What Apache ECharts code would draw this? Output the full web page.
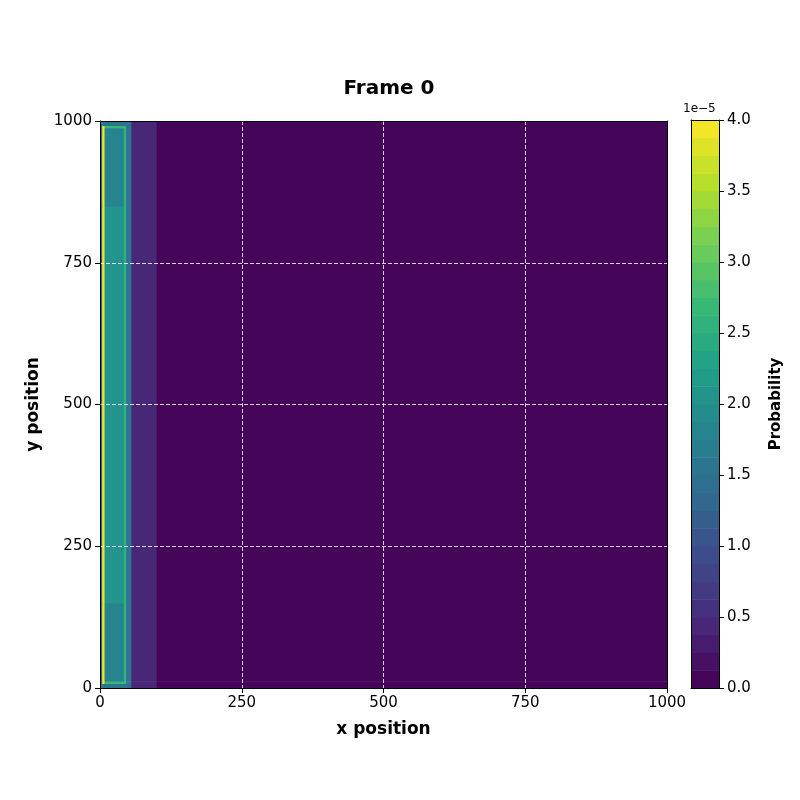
<!DOCTYPE html>
<html>
<head>
<meta charset="utf-8">
<script src="https://cdn.jsdelivr.net/npm/echarts@6/dist/echarts.min.js"></script>
<style>body{margin:0;background:#fff}#c{width:800px;height:800px}</style>
</head>
<body>
<div id="c"></div>
<script>
// cell edges (x/y position) and probability values in units of 1e-5
var xEdges = [0, 4, 8, 42, 46, 55, 100, 1000];
var yEdges = [0, 8, 12, 150, 850, 988, 992, 1000];
var probRows = [
    [1.4, 1.6, 1.6, 1.6, 1.4, 0.4, 0.0],
    [1.6, 3.9, 2.7, 2.7, 1.6, 0.4, 0.0],
    [1.4, 3.9, 1.8, 2.5, 1.5, 0.4, 0.0],
    [1.4, 3.9, 2.0, 2.5, 1.5, 0.4, 0.0],
    [1.4, 3.9, 1.8, 2.5, 1.5, 0.4, 0.0],
    [1.6, 3.9, 2.7, 2.7, 1.6, 0.4, 0.0],
    [1.4, 1.6, 1.6, 1.6, 1.4, 0.4, 0.0]
];
var nLevels = 32, vmax = 4;

var viridisStops = ['#440154','#482878','#3e4989','#31688e','#26828e','#1f9e89','#35b779','#6ece58','#b5de2b','#fde725'];
function viridis(t) {
    var p = t * (viridisStops.length - 1), i = Math.min(Math.floor(p), viridisStops.length - 2), f = p - i;
    var a = viridisStops[i], b = viridisStops[i + 1];
    var c = [1, 3, 5].map(function (k) {
        var u = parseInt(a.substr(k, 2), 16), v = parseInt(b.substr(k, 2), 16);
        return Math.round(u + (v - u) * f);
    });
    return 'rgb(' + c.join(',') + ')';
}
function levelColor(v) {
    var idx = Math.min(nLevels - 1, Math.max(0, Math.floor(v / vmax * nLevels)));
    return viridis((idx + 0.5) / nLevels);
}

var cells = [];
probRows.forEach(function (row, j) {
    row.forEach(function (v, i) {
        cells.push([xEdges[i], xEdges[i + 1], yEdges[j], yEdges[j + 1], v]);
    });
});
var bands = [];
for (var k = 0; k < nLevels; k++) bands.push([k * vmax / nLevels, (k + 1) * vmax / nLevels]);

var chart = echarts.init(document.getElementById('c'));
var ff = 'DejaVu Sans';
var ax = {color: '#000', fontSize: 15, fontFamily: ff, formatter: function (v) { return String(v); }};
var nameStyle = {fontSize: 17, fontWeight: 'bold', fontFamily: ff, color: '#000'};
var black = {lineStyle: {color: '#000'}};
var frameOnly = {axisLine: {show: true, onZero: false, lineStyle: {color: '#000'}}, axisTick: {show: false}, axisLabel: {show: false}, splitLine: {show: false}, z: 10};
chart.setOption({
    animation: false,
    title: {text: 'Frame 0', left: 384, top: 74, textAlign: 'center',
        textStyle: {fontSize: 20, fontWeight: 'bold', fontFamily: ff, color: '#000'}},
    grid: [
        {left: 100, top: 121, width: 567, height: 567},
        {left: 691, top: 120, width: 28, height: 568}
    ],
    xAxis: [
        {type: 'value', min: 0, max: 1000, interval: 250, z: 10, gridIndex: 0,
            name: 'x position', nameLocation: 'middle', nameGap: 33, nameTextStyle: nameStyle,
            axisLine: {onZero: false, lineStyle: {color: '#000'}}, axisTick: {lineStyle: {color: '#000'}, length: 5},
            axisLabel: ax, splitLine: {show: true, lineStyle: {color: '#fff', type: [4, 2], width: 0.8}}},
        Object.assign({type: 'value', min: 0, max: 1, gridIndex: 1, position: 'bottom'}, frameOnly),
        Object.assign({type: 'value', min: 0, max: 1000, gridIndex: 0, position: 'top'}, frameOnly),
        Object.assign({type: 'value', min: 0, max: 1, gridIndex: 1, position: 'top'}, frameOnly)
    ],
    yAxis: [
        {type: 'value', min: 0, max: 1000, interval: 250, z: 10, gridIndex: 0,
            name: 'y position', nameLocation: 'middle', nameGap: 58, nameTextStyle: nameStyle,
            axisLine: {show: true, onZero: false, lineStyle: {color: '#000'}}, axisTick: {show: true, lineStyle: {color: '#000'}, length: 5},
            axisLabel: ax, splitLine: {show: true, lineStyle: {color: '#fff', type: [4, 2], width: 0.8}}},
        {type: 'value', min: 0, max: 4, interval: 0.5, gridIndex: 1, position: 'right', z: 10,
            name: 'Probability', nameLocation: 'middle', nameGap: 50, nameRotate: 90,
            nameTextStyle: {fontSize: 15, fontWeight: 'bold', fontFamily: ff, color: '#000'},
            axisLine: {show: true, onZero: false, lineStyle: {color: '#000'}}, axisTick: {show: true, lineStyle: {color: '#000'}, length: 5},
            axisLabel: {color: '#000', fontSize: 15, fontFamily: ff, formatter: function (v) { return v.toFixed(1); }},
            splitLine: {show: false}},
        Object.assign({type: 'value', min: 0, max: 1000, gridIndex: 0, position: 'right'}, frameOnly),
        Object.assign({type: 'value', min: 0, max: 4, gridIndex: 1, position: 'left'}, frameOnly)
    ],
    graphic: [{type: 'text', left: 683, top: 103, style: {text: '1e\u22125', fontSize: 12, fontFamily: ff, fill: '#000'}}],
    series: [
        {type: 'custom', xAxisIndex: 0, yAxisIndex: 0, data: cells,
            renderItem: function (params, api) {
                var p0 = api.coord([api.value(0), api.value(2)]), p1 = api.coord([api.value(1), api.value(3)]);
                return {type: 'rect', shape: {x: p0[0], y: p1[1], width: p1[0] - p0[0] + 0.5, height: p0[1] - p1[1] + 0.5},
                    style: {fill: levelColor(api.value(4) + 1e-6)}};
            }},
        {type: 'custom', xAxisIndex: 1, yAxisIndex: 1, data: bands,
            renderItem: function (params, api) {
                var p0 = api.coord([0, api.value(0)]), p1 = api.coord([1, api.value(1)]);
                return {type: 'rect', shape: {x: p0[0], y: p1[1], width: p1[0] - p0[0], height: p0[1] - p1[1] + 0.5},
                    style: {fill: levelColor((api.value(0) + api.value(1)) / 2)}};
            }}
    ]
});
</script>
</body>
</html>
